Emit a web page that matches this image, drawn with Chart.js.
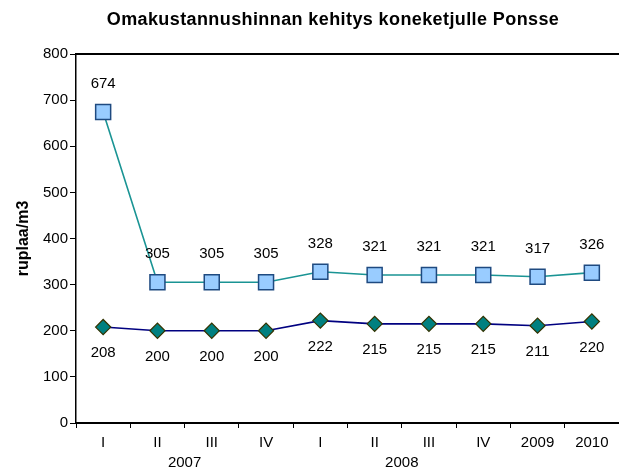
<!DOCTYPE html>
<html>
<head>
<meta charset="utf-8">
<script src="https://cdn.jsdelivr.net/npm/chart.js@4"></script>
<style>
html,body{margin:0;padding:0;background:#fff;}
#wrap{width:619px;height:470px;}
</style>
</head>
<body>
<div id="wrap"><canvas id="c" width="619" height="470"></canvas></div>
<script>
const chartTitle = 'Omakustannushinnan kehitys koneketjulle Ponsse';
const yAxisTitle = 'ruplaa/m3';
const categories = ['I', 'II', 'III', 'IV', 'I', 'II', 'III', 'IV', '2009', '2010'];
const groupLabels = ['2007', '2008'];
const groupRanges = [[0, 3], [4, 7]];
const upperValues = [674, 305, 305, 305, 328, 321, 321, 321, 317, 326];
const lowerValues = [208, 200, 200, 200, 222, 215, 215, 215, 211, 220];
const yMin = 0, yMax = 800, yStep = 100;

const FONT = 'Liberation Sans, Arial, sans-serif';

const dataLabelPlugin = {
  id: 'dataLabels',
  afterDatasetsDraw(chart) {
    const ctx = chart.ctx;
    ctx.save();
    ctx.font = '15px ' + FONT;
    ctx.fillStyle = '#000';
    ctx.textAlign = 'center';
    ctx.textBaseline = 'middle';
    chart.data.datasets.forEach((ds, i) => {
      const meta = chart.getDatasetMeta(i);
      const off = ds.labelSide === 'above' ? -28 : 26;
      meta.data.forEach((pt, j) => {
        ctx.fillText(String(ds.data[j]), pt.x, pt.y + off);
      });
    });
    ctx.restore();
  }
};

const frameAndTextPlugin = {
  id: 'frameText',
  afterDraw(chart) {
    const ctx = chart.ctx;
    const a = chart.chartArea;
    const xs = chart.scales.x;
    ctx.save();
    ctx.strokeStyle = '#000';
    ctx.lineWidth = 2;
    ctx.beginPath();
    ctx.moveTo(a.left, a.top);
    ctx.lineTo(a.right, a.top);
    ctx.stroke();
    ctx.fillStyle = '#000';
    ctx.textAlign = 'center';
    ctx.textBaseline = 'middle';
    ctx.font = '15px ' + FONT;
    groupLabels.forEach((g, i) => {
      const [s, e] = groupRanges[i];
      const cx = (xs.getPixelForValue(s) + xs.getPixelForValue(e)) / 2;
      ctx.fillText(g, cx, 463);
    });
    ctx.font = 'bold 18px ' + FONT;
    try { ctx.letterSpacing = '0.4px'; } catch (e) {}
    ctx.fillText(chartTitle, 333, 20);
    try { ctx.letterSpacing = '0px'; } catch (e) {}
    ctx.restore();
  }
};

new Chart(document.getElementById('c'), {
  type: 'line',
  data: {
    labels: categories,
    datasets: [
      {
        label: 'upper',
        data: upperValues,
        labelSide: 'above',
        borderColor: '#1a9494',
        borderWidth: 1.6,
        pointStyle: 'rect',
        pointRadius: 10.6,
        pointHoverRadius: 10.6,
        pointBackgroundColor: '#99ccff',
        pointBorderColor: '#1f4a80',
        pointBorderWidth: 1.5,
        tension: 0,
        clip: false
      },
      {
        label: 'lower',
        data: lowerValues,
        labelSide: 'below',
        borderColor: '#000080',
        borderWidth: 1.6,
        pointStyle: 'rectRot',
        pointRadius: 7.6,
        pointHoverRadius: 7.6,
        pointBackgroundColor: '#008080',
        pointBorderColor: '#333300',
        pointBorderWidth: 1.2,
        tension: 0,
        clip: false
      }
    ]
  },
  options: {
    responsive: false,
    animation: false,
    devicePixelRatio: 1,
    layout: { autoPadding: false, padding: { top: 54, left: 0, right: 0, bottom: 0 } },
    plugins: {
      legend: { display: false },
      tooltip: { enabled: false },
      title: { display: false }
    },
    scales: {
      x: {
        offset: true,
        afterFit(scale) { scale.height = 47; scale.paddingLeft = 0; scale.paddingRight = 0; },
        grid: { display: true, offset: true, drawOnChartArea: false, drawTicks: true, tickLength: 5, color: '#000', lineWidth: 1 },
        border: { display: true, color: '#000', width: 2 },
        ticks: { color: '#000', font: { family: FONT, size: 15 }, padding: 6, maxRotation: 0, autoSkip: false }
      },
      y: {
        min: yMin,
        max: yMax,
        afterFit(scale) { scale.width = 76; },
        grid: { display: true, drawOnChartArea: false, drawTicks: true, tickLength: 6, color: '#000', lineWidth: 1 },
        border: { display: true, color: '#000', width: 1.5 },
        ticks: { stepSize: yStep, color: '#000', font: { family: FONT, size: 15 }, padding: 2 },
        title: {
          display: true,
          text: yAxisTitle,
          color: '#000',
          font: { family: FONT, size: 16, weight: 'bold', lineHeight: 1.2 },
          padding: { top: 14, bottom: 0 }
        }
      }
    }
  },
  plugins: [dataLabelPlugin, frameAndTextPlugin]
});
</script>
</body>
</html>
